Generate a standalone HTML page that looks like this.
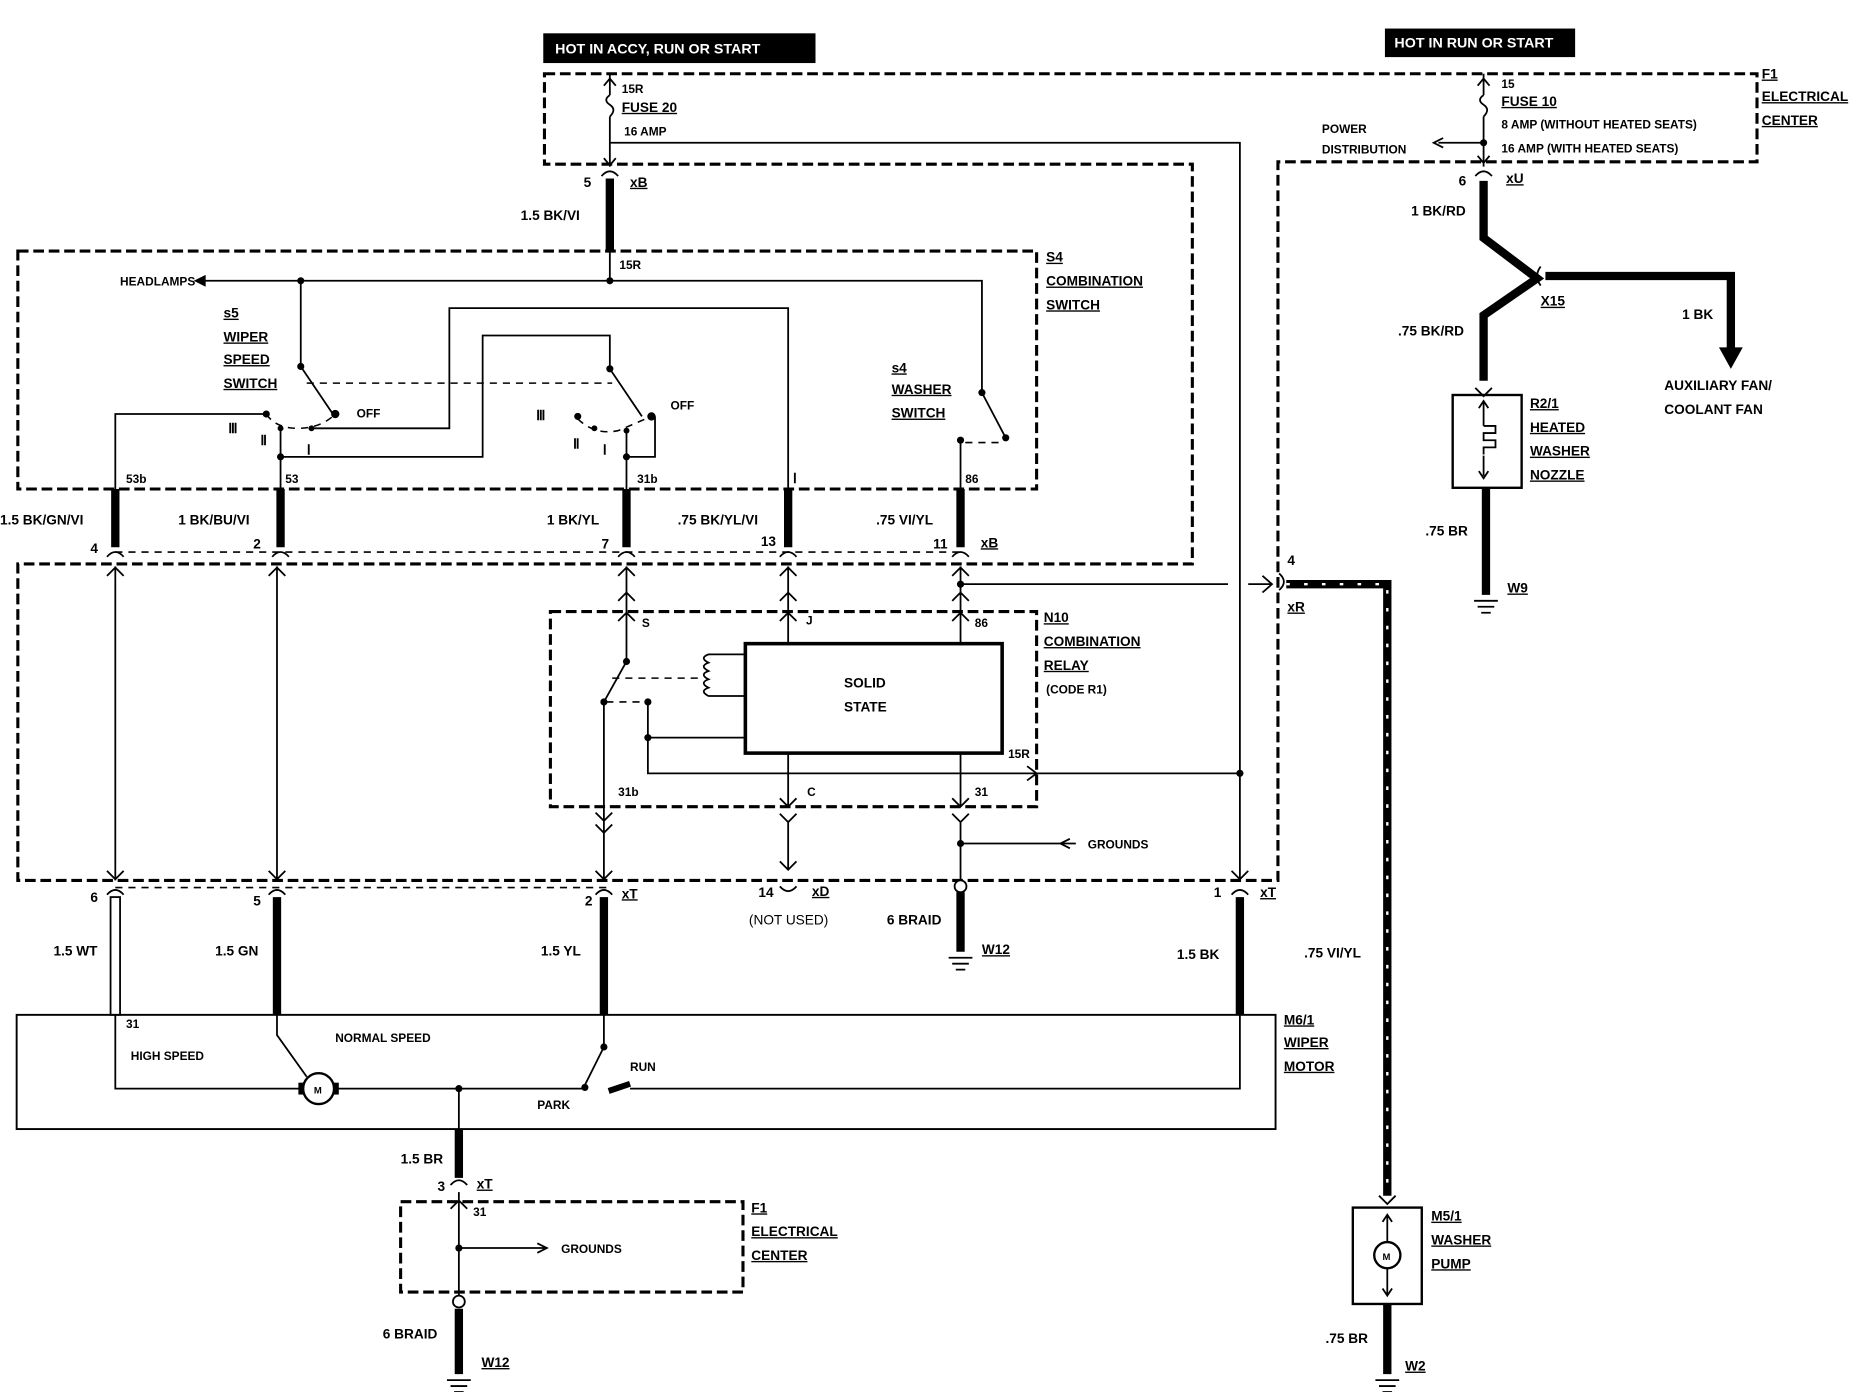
<!DOCTYPE html>
<html><head><style>
html,body{margin:0;padding:0;background:#fff}
svg{display:block}
text{font-family:"Liberation Sans",sans-serif;font-weight:bold;font-size:11.5px;fill:#000}
.t{fill:none;stroke:#000;stroke-width:1.5}
.k{fill:none;stroke:#000;stroke-width:7}
.d{fill:none;stroke:#000;stroke-width:2.6;stroke-dasharray:9,4}
.dl{fill:none;stroke:#000;stroke-width:1.3;stroke-dasharray:6,5}
.u{text-decoration:underline}
</style></head><body>
<svg width="1864" height="1392" viewBox="0 0 1568 1170" preserveAspectRatio="none" xmlns="http://www.w3.org/2000/svg">
<rect width="1568" height="1170" fill="#fff"/>
<rect x="457" y="28" width="229" height="25" fill="#000"/>
<text x="467" y="45" style="fill:#fff;font-size:12px">HOT IN ACCY, RUN OR START</text>
<rect x="1165" y="24" width="160" height="24" fill="#000"/>
<text x="1173" y="40" style="fill:#fff;font-size:12px">HOT IN RUN OR START</text>
<path class="d" d="M458,62 H1478 V136 H1075 V740 H15 V474 H1003 V138 H458 Z"/>
<path class="d" d="M15,211 H872 V411 H15 Z"/>
<path class="d" d="M463,514 H872 V678 H463 Z"/>
<path class="dl" d="M97,464 H808"/>
<path class="dl" d="M97,746 H510"/>
<path class="d" d="M337,1010 H625 V1086 H337 Z"/>
<path class="t" d="M513,62 V80 M513,98 V140"/>
<path class="t" d="M513,80 q-6,4 0,8 q6,4 0,10"/>
<path class="t" d="M508,72 l5,-6 l5,6 M508,133 l5,6 l5,-6"/>
<path class="t" d="M513,120 H1043 V650"/>
<text x="523" y="78" style="font-size:10px">15R</text>
<text x="523" y="94" class="u">FUSE 20</text>
<text x="525" y="114" style="font-size:10px">16 AMP</text>
<text x="491" y="157">5</text><text x="530" y="157" class="u">xB</text>
<path class="t" d="M506,148 q7,-8 14,0"/>
<path class="k" d="M513,150 V212"/>
<text x="438" y="185">1.5 BK/VI</text>
<text x="521" y="226" style="font-size:10px">15R</text>
<path class="t" d="M513,212 V236 M172,236 H826 V330"/>
<path d="M163,236 l10,-5 v10 z" fill="#000"/>
<text x="101" y="240" style="font-size:10px">HEADLAMPS</text>
<circle cx="253" cy="236" r="3"/><circle cx="513" cy="236" r="3"/>
<path class="t" d="M253,236 V308 L280,348"/>
<circle cx="253" cy="308" r="3"/><circle cx="282" cy="348" r="3.5"/>
<text x="300" y="351" style="font-size:10px">OFF</text>
<text x="188" y="267" class="u">s5</text>
<text x="188" y="287" class="u">WIPER</text>
<text x="188" y="306" class="u">SPEED</text>
<text x="188" y="326" class="u">SWITCH</text>
<path class="dl" d="M258,322 H515"/>
<path class="t" d="M97,411 V348 H222"/>
<circle cx="224" cy="348" r="3"/>
<path class="dl" d="M224,348 Q232,360 250,360 Q270,360 282,348"/>
<circle cx="236" cy="360" r="2.5"/><circle cx="262" cy="360" r="2.5"/>
<text x="192" y="364">Ⅲ</text><text x="219" y="374">Ⅱ</text><text x="258" y="382">Ⅰ</text>
<path class="t" d="M236,360 V411 M236,384 H406 V282 H513 V310 L540,350"/>
<circle cx="236" cy="384" r="3"/>
<path class="t" d="M262,360 H378 V259 H663 V411"/>
<circle cx="513" cy="310" r="3"/><circle cx="548" cy="350" r="3.5"/>
<text x="564" y="344" style="font-size:10px">OFF</text>
<path class="dl" d="M486,352 Q500,366 520,362 L548,350"/>
<circle cx="486" cy="350" r="3"/><circle cx="500" cy="360" r="2.5"/><circle cx="527" cy="362" r="2.5"/>
<text x="451" y="353">Ⅲ</text><text x="482" y="377">Ⅱ</text><text x="507" y="382">Ⅰ</text>
<path class="t" d="M527,362 V411 M527,384 H551 V350"/><circle cx="527" cy="384" r="3"/>
<text x="750" y="313" class="u">s4</text>
<text x="750" y="331" class="u">WASHER</text>
<text x="750" y="351" class="u">SWITCH</text>
<path class="t" d="M826,330 L846,368"/><circle cx="826" cy="330" r="3"/><circle cx="846" cy="368" r="3"/>
<path class="t" d="M808,411 V370"/><circle cx="808" cy="370" r="3"/>
<path class="dl" d="M812,372 H844"/>
<text x="880" y="220" class="u">S4</text>
<text x="880" y="240" class="u">COMBINATION</text>
<text x="880" y="260" class="u">SWITCH</text>
<text x="106" y="406" style="font-size:10px">53b</text>
<text x="240" y="406" style="font-size:10px">53</text>
<text x="536" y="406" style="font-size:10px">31b</text>
<text x="667" y="406">Ⅰ</text>
<text x="812" y="406" style="font-size:10px">86</text>
<g class="k"><path d="M97,411 V460"/><path d="M236,411 V460"/><path d="M527,411 V460"/><path d="M663,411 V460"/><path d="M808,411 V460"/></g>
<g class="t"><path d="M90,468 q7,-8 14,0 M229,468 q7,-8 14,0 M520,468 q7,-8 14,0 M656,468 q7,-8 14,0 M801,468 q7,-8 14,0"/></g>
<text x="0" y="441">1.5 BK/GN/VI</text><text x="150" y="441">1 BK/BU/VI</text>
<text x="460" y="441">1 BK/YL</text><text x="570" y="441">.75 BK/YL/VI</text><text x="737" y="441">.75 VI/YL</text>
<text x="76" y="465">4</text><text x="213" y="461">2</text><text x="506" y="461">7</text><text x="640" y="459">13</text><text x="785" y="461">11</text><text x="825" y="460" class="u">xB</text>
<g class="t">
<path d="M97,476 V740 M90,484 l7,-7 l7,7 M90,732 l7,7 l7,-7"/>
<path d="M233,476 V740 M226,484 l7,-7 l7,7 M226,732 l7,7 l7,-7"/>
<path d="M527,476 V514 M520,484 l7,-7 l7,7 M520,505 l7,-7 l7,7"/>
<path d="M663,476 V514 M656,484 l7,-7 l7,7 M656,505 l7,-7 l7,7"/>
<path d="M808,476 V514 M801,484 l7,-7 l7,7 M801,505 l7,-7 l7,7"/>
<path d="M808,491 H1033 M1050,491 H1070 M1062,484 l8,7 l-8,7"/>
</g>
<circle cx="808" cy="491" r="3"/>
<rect x="627" y="541" width="216" height="92" fill="none" stroke="#000" stroke-width="3"/>
<text x="710" y="578">SOLID</text><text x="710" y="598">STATE</text>
<g class="t">
<path d="M527,514 V556 L508,590 V710 M520,522 l7,-7 l7,7 M501,683 l7,7 l7,-7 M501,693 l7,7 l7,-7 M508,700 V740 M501,732 l7,7 l7,-7"/>
<path d="M663,514 V541 M656,522 l7,-7 l7,7"/>
<path d="M808,514 V541 M801,522 l7,-7 l7,7"/>
<path d="M627,550 H596 q-8,3 0,7 q-8,3 0,7 q-8,3 0,7 q-8,3 0,7 q-8,3 0,7 H627"/>
<path d="M545,590 V650 H872 M545,620 H627 M864,644 l8,6 l-8,6"/>
<path d="M663,633 V678 M656,671 l7,7 l7,-7 M656,684 l7,7 l7,-7 M663,690 V730 M656,724 l7,7 l7,-7"/>
<path d="M808,633 V678 M801,671 l7,7 l7,-7 M801,684 l7,7 l7,-7 M808,690 V740"/>
<path d="M872,650 H1043"/>
<path d="M1043,650 V740 M1036,732 l7,7 l7,-7"/>
<path d="M808,709 H905 M900,705 l-8,4 l8,4"/>
</g>
<path class="dl" d="M515,570 H590 M510,590 H545"/>
<circle cx="527" cy="556" r="3"/><circle cx="508" cy="590" r="3"/><circle cx="545" cy="590" r="3"/><circle cx="545" cy="620" r="3"/>
<circle cx="1043" cy="650" r="3"/><circle cx="808" cy="709" r="3"/>
<text x="540" y="527" style="font-size:10px">S</text><text x="678" y="525" style="font-size:10px">J</text><text x="820" y="527" style="font-size:10px">86</text>
<text x="520" y="669" style="font-size:10px">31b</text><text x="679" y="669" style="font-size:10px">C</text><text x="820" y="669" style="font-size:10px">31</text>
<text x="848" y="637" style="font-size:10px">15R</text>
<text x="878" y="523" class="u">N10</text><text x="878" y="543" class="u">COMBINATION</text><text x="878" y="563" class="u">RELAY</text><text x="880" y="583" style="font-size:10px">(CODE R1)</text>
<text x="915" y="713" style="font-size:10px">GROUNDS</text>
<g class="t"><path d="M90,752 q7,-8 14,0 M226,752 q7,-8 14,0 M501,752 q7,-8 14,0 M1036,752 q7,-8 14,0 M656,745 q7,8 14,0"/></g>
<rect x="93" y="754" width="8" height="99" fill="#fff" stroke="#000" stroke-width="1.5"/>
<path class="k" d="M233,754 V853 M508,754 V853 M1043,754 V853 M808,750 V800"/>
<circle cx="808" cy="745" r="5" fill="#fff" stroke="#000" stroke-width="1.5"/>
<text x="76" y="758">6</text><text x="213" y="761">5</text><text x="492" y="761">2</text><text x="523" y="755" class="u">xT</text>
<text x="638" y="754">14</text><text x="683" y="753" class="u">xD</text><text x="630" y="777" style="font-weight:normal">(NOT USED)</text>
<text x="746" y="777">6 BRAID</text><text x="826" y="802" class="u">W12</text>
<text x="1021" y="754">1</text><text x="1060" y="754" class="u">xT</text>
<path class="t" d="M798,805 H818 M801,810 H815 M804,815 H812"/>
<text x="45" y="803">1.5 WT</text><text x="181" y="803">1.5 GN</text><text x="455" y="803">1.5 YL</text><text x="990" y="806">1.5 BK</text>
<rect x="14" y="853" width="1059" height="96" fill="none" stroke="#000" stroke-width="1.6"/>
<g class="t">
<path d="M97,853 V915 H255 M282,915 H490 M233,853 V870 L258,905"/>
<path d="M508,853 V880 L492,912 M1043,853 V915 H530"/>
<path d="M386,915 V949"/>
</g>
<circle cx="268" cy="915" r="13" fill="#fff" stroke="#000" stroke-width="2"/><text x="264" y="919" style="font-size:8px">M</text>
<rect x="251" y="910" width="4" height="10"/><rect x="281" y="910" width="4" height="10"/>
<circle cx="508" cy="880" r="3"/><circle cx="492" cy="914" r="3"/><circle cx="386" cy="915" r="3"/>
<path d="M512,917 L530,911" stroke="#000" stroke-width="5"/>
<text x="106" y="864" style="font-size:10px">31</text>
<text x="110" y="891" style="font-size:10px">HIGH SPEED</text>
<text x="282" y="876" style="font-size:10px">NORMAL SPEED</text>
<text x="530" y="900" style="font-size:10px">RUN</text>
<text x="452" y="932" style="font-size:10px">PARK</text>
<text x="1080" y="861" class="u">M6/1</text><text x="1080" y="880" class="u">WIPER</text><text x="1080" y="900" class="u">MOTOR</text>
<path class="k" d="M386,949 V990"/>
<text x="337" y="978">1.5 BR</text><text x="368" y="1001">3</text><text x="401" y="999" class="u">xT</text>
<text x="398" y="1022" style="font-size:10px">31</text>
<g class="t"><path d="M379,996 q7,-8 14,0 M386,1002 V1094 M379,1016 l7,-7 l7,7 M386,1049 H458 M452,1045 l8,4 l-8,4 M376,1160 H396 M379,1165 H393 M382,1170 H390"/></g>
<circle cx="386" cy="1049" r="3"/>
<text x="472" y="1053" style="font-size:10px">GROUNDS</text>
<circle cx="386" cy="1094" r="5" fill="#fff" stroke="#000" stroke-width="1.5"/>
<path class="k" d="M386,1100 V1155"/>
<text x="322" y="1125">6 BRAID</text><text x="405" y="1149" class="u">W12</text>
<text x="632" y="1019" class="u">F1</text><text x="632" y="1039" class="u">ELECTRICAL</text><text x="632" y="1059" class="u">CENTER</text>
<g class="t">
<path d="M1248,62 V80 M1248,98 V140 M1243,72 l5,-6 l5,6 M1243,131 l5,6 l5,-6 M1248,80 q-6,4 0,8 q6,4 0,10"/>
<path d="M1248,120 H1210 M1214,116 l-8,4 l8,4"/>
<path d="M1241,148 q7,-8 14,0"/>
</g>
<circle cx="1248" cy="120" r="3"/>
<text x="1263" y="74" style="font-size:10px">15</text>
<text x="1263" y="89" class="u">FUSE 10</text>
<text x="1263" y="108" style="font-size:10px">8 AMP   (WITHOUT HEATED SEATS)</text>
<text x="1263" y="128" style="font-size:10px">16 AMP   (WITH HEATED SEATS)</text>
<text x="1112" y="112" style="font-size:10px">POWER</text><text x="1112" y="129" style="font-size:10px">DISTRIBUTION</text>
<text x="1227" y="156">6</text><text x="1267" y="154" class="u">xU</text>
<text x="1482" y="66" class="u">F1</text><text x="1482" y="85" class="u">ELECTRICAL</text><text x="1482" y="105" class="u">CENTER</text>
<path class="k" d="M1248,152 V200 L1293,234 L1248,265 V320"/>
<path class="k" d="M1300,232 H1456 V296"/>
<path d="M1446,292 L1456,310 L1466,292 Z"/>
<path class="t" d="M1296,224 q-6,8 0,16"/>
<text x="1187" y="181">1 BK/RD</text><text x="1296" y="257" class="u">X15</text><text x="1415" y="268">1 BK</text>
<text x="1176" y="282">.75 BK/RD</text>
<text x="1400" y="328">AUXILIARY FAN/</text><text x="1400" y="348">COOLANT FAN</text>
<path class="t" d="M1241,326 l7,7 l7,-7"/>
<rect x="1222" y="332" width="58" height="78" fill="none" stroke="#000" stroke-width="2"/>
<g class="t"><path d="M1248,338 V358 M1248,400 V383 M1244,343 l4,-6 l4,6 M1244,396 l4,6 l4,-6 M1248,358 h10 v6 h-10 v6 h10 v6 h-10 v6"/></g>
<text x="1287" y="343" class="u">R2/1</text><text x="1287" y="363" class="u">HEATED</text><text x="1287" y="383" class="u">WASHER</text><text x="1287" y="403" class="u">NOZZLE</text>
<path class="k" d="M1250,410 V500"/>
<text x="1199" y="450">.75 BR</text><text x="1268" y="498" class="u">W9</text>
<path class="t" d="M1240,505 H1260 M1243,510 H1257 M1246,515 H1254"/>
<text x="1083" y="475">4</text><text x="1083" y="514" class="u">xR</text>
<path class="t" d="M1076,482 q8,7 0,14"/>
<path class="k" d="M1082,491 H1167 V1005"/>
<path d="M1082,491 H1167 V1005" fill="none" stroke="#fff" stroke-width="2" stroke-dasharray="3,12"/>
<text x="1097" y="805">.75 VI/YL</text>
<path class="t" d="M1160,1005 l7,7 l7,-7"/>
<rect x="1138" y="1015" width="58" height="81" fill="none" stroke="#000" stroke-width="2"/>
<circle cx="1167" cy="1055" r="11" fill="#fff" stroke="#000" stroke-width="2"/><text x="1163" y="1059" style="font-size:8px">M</text>
<g class="t"><path d="M1167,1022 V1044 M1167,1066 V1088 M1163,1027 l4,-6 l4,6 M1163,1083 l4,6 l4,-6"/></g>
<text x="1204" y="1026" class="u">M5/1</text><text x="1204" y="1046" class="u">WASHER</text><text x="1204" y="1066" class="u">PUMP</text>
<path class="k" d="M1167,1096 V1155"/>
<text x="1115" y="1129">.75 BR</text><text x="1182" y="1152" class="u">W2</text>
<path class="t" d="M1157,1160 H1177 M1160,1165 H1174 M1163,1170 H1171"/>
</svg>
</body></html>
